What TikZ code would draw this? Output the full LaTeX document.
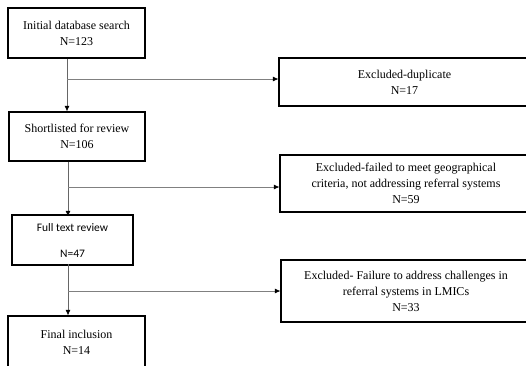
\documentclass[tikz,border=0pt]{standalone}
\usepackage{fontspec}
\setmainfont{Liberation Serif}
\newfontfamily\calfont{Carlito}
\usetikzlibrary{arrows.meta}
\begin{document}
\begin{tikzpicture}[x=1pt,y=-1pt,
  box/.style={draw=black,line width=1.1pt,rectangle,inner sep=0pt,align=center,
    font=\fontsize{12}{16}\selectfont},
  conn/.style={draw=black!60,line width=0.8pt,-{Latex[length=5.5pt,width=5pt,black]}}]
\useasboundingbox (0,0) rectangle (526,365);
\clip (0,0) rectangle (526,365);
\node[box,minimum width=137pt,minimum height=50pt] (b1) at (76.5,33) {Initial database search\\N=123};
\node[box,minimum width=136pt,minimum height=49pt] (b2) at (77,136.5) {Shortlisted for review\\N=106};
\node[box,minimum width=121pt,minimum height=50pt,font=\calfont\fontsize{11.5}{13}\selectfont] (b3) at (72.5,240) {Full text review\\[13pt]N=47};
\node[box,minimum width=137pt,minimum height=52pt] (b4) at (76.5,342) {Final inclusion\\N=14};
\node[box,minimum width=251pt,minimum height=48pt] (e1) at (404.5,82) {Excluded-duplicate\\N=17};
\node[box,minimum width=252pt,minimum height=57pt] (e2) at (406,183.5) {Excluded-failed to meet geographical\\criteria, not addressing referral systems\\N=59};
\node[box,minimum width=250pt,minimum height=62pt] (e3) at (406,291) {Excluded- Failure to address challenges in\\referral systems in LMICs\\N=33};
\coordinate (j1) at (67,79);
\coordinate (j2) at (68,187);
\coordinate (j3) at (68,291);
\draw[conn] (b1.south -| j1) -- (b2.north -| j1);
\draw[conn] (b2.south -| j2) -- ([yshift=-2pt]b3.north -| j2);
\draw[conn] ([yshift=2pt]b3.south -| j3) -- (b4.north -| j3);
\draw[conn,draw=black!50] (j1) -- (j1 -| e1.west);
\draw[conn,draw=black!50] (j2) -- (j2 -| e2.west);
\draw[conn,draw=black!50] (j3) -- (j3 -| e3.west);
\end{tikzpicture}
\end{document}
